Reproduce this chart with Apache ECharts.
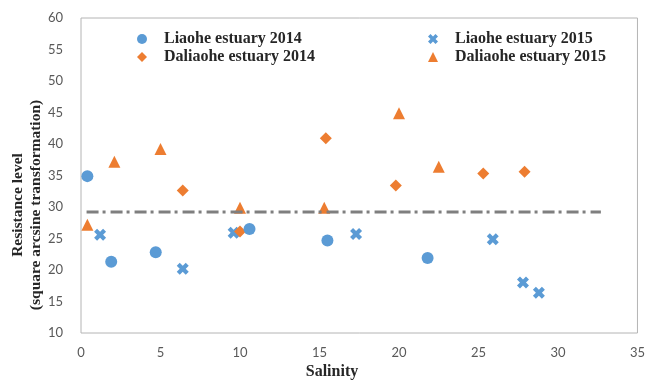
<!DOCTYPE html>
<html>
<head>
<meta charset="utf-8">
<title>Resistance level vs salinity</title>
<script src="https://cdn.jsdelivr.net/npm/echarts@6/dist/echarts.min.js"></script>
<style>
  html, body { margin: 0; padding: 0; background: #ffffff; }
  #chart { width: 648px; height: 380px; }
</style>
</head>
<body>
<div id="chart"></div>
<script>
// Salinity (x) and resistance level (y) for each estuary / sampling year
const liaohe2014Salinity = [0.4, 1.9, 4.7, 10.6, 15.5, 21.8];
const liaohe2014Resistance = [34.9, 21.3, 22.8, 26.5, 24.7, 21.9];

const liaohe2015Salinity = [1.2, 6.4, 9.6, 17.3, 25.9, 27.8, 28.8];
const liaohe2015Resistance = [25.6, 20.2, 25.9, 25.7, 24.9, 18.0, 16.4];

const daliaohe2014Salinity = [6.4, 10.0, 15.4, 19.8, 25.3, 27.9];
const daliaohe2014Resistance = [32.6, 26.1, 40.9, 33.4, 35.3, 35.6];

const daliaohe2015Salinity = [0.4, 2.1, 5.0, 10.0, 15.3, 20.0, 22.5];
const daliaohe2015Resistance = [27.2, 37.2, 39.2, 29.9, 29.9, 44.9, 36.4];

// Reference level drawn as a dash-dot line across the sampled salinity range
const thresholdSalinity = [0.35, 32.7];
const thresholdLevel = [29.2, 29.2];

const seriesNames = [
  'Liaohe estuary 2014',
  'Liaohe estuary 2015',
  'Daliaohe estuary 2014',
  'Daliaohe estuary 2015'
];

const BLUE = '#5B9BD5';
const ORANGE = '#ED7D31';
// Heavy "x" marker
const X_MARK = 'path://M0,2.5 L2.5,0 L5,2.5 L7.5,0 L10,2.5 L7.5,5 L10,7.5 L7.5,10 L5,7.5 L2.5,10 L0,7.5 L2.5,5 Z';

const zip = (xs, ys) => xs.map((x, i) => [x, ys[i]]);

const serif = '"Liberation Serif", "Times New Roman", serif';
const tickFont = 'Lato, "Liberation Sans", sans-serif';

const chart = echarts.init(document.getElementById('chart'), null, { renderer: 'canvas' });

const legendText = {
  fontFamily: serif,
  fontWeight: 'bold',
  fontSize: 16,
  color: '#262626',
  lineHeight: 16,
  padding: [0, 0, 0, 12]
};

const legendBase = {
  orient: 'vertical',
  top: 26,
  itemWidth: 10,
  itemHeight: 10,
  itemGap: 2,
  symbolKeepAspect: true,
  textStyle: legendText
};

chart.setOption({
  animation: false,
  backgroundColor: '#ffffff',
  grid: {
    left: 81,
    right: 5,
    top: 18,
    bottom: 47,
    show: true,
    borderColor: '#B4B4B4',
    borderWidth: 1,
    backgroundColor: 'transparent'
  },
  legend: [
    Object.assign({}, legendBase, { left: 132, data: [seriesNames[0], seriesNames[2]] }),
    Object.assign({}, legendBase, { left: 423, data: [seriesNames[1], seriesNames[3]] })
  ],
  xAxis: {
    type: 'value',
    min: 0,
    max: 35,
    interval: 5,
    axisLine: { show: false },
    axisTick: { show: false },
    splitLine: { show: false },
    axisLabel: {
      margin: 13,
      fontFamily: tickFont,
      fontSize: 13,
      color: '#595959'
    }
  },
  yAxis: {
    type: 'value',
    min: 10,
    max: 60,
    interval: 5,
    axisLine: { show: false },
    axisTick: { show: false },
    splitLine: { show: false },
    axisLabel: {
      margin: 18,
      fontFamily: tickFont,
      fontSize: 13,
      color: '#595959'
    }
  },
  graphic: [
    {
      type: 'text',
      x: 332,
      y: 372,
      style: {
        text: 'Salinity',
        font: 'bold 16px ' + serif,
        fill: '#262626',
        textAlign: 'center',
        textVerticalAlign: 'middle'
      }
    },
    {
      type: 'text',
      x: 27,
      y: 205,
      rotation: Math.PI / 2,
      style: {
        text: 'Resistance level\n(square arcsine transformation)',
        font: 'bold 15.5px ' + serif,
        lineHeight: 18,
        fill: '#262626',
        textAlign: 'center',
        textVerticalAlign: 'middle'
      }
    }
  ],
  series: [
    {
      name: seriesNames[1],
      type: 'scatter',
      symbol: X_MARK,
      symbolSize: 12,
      itemStyle: { color: BLUE, opacity: 1 },
      data: zip(liaohe2015Salinity, liaohe2015Resistance)
    },
    {
      name: seriesNames[2],
      type: 'scatter',
      symbol: 'diamond',
      symbolSize: 12,
      itemStyle: { color: ORANGE, opacity: 1 },
      data: zip(daliaohe2014Salinity, daliaohe2014Resistance)
    },
    {
      name: seriesNames[0],
      type: 'scatter',
      symbol: 'circle',
      symbolSize: 12,
      itemStyle: { color: BLUE, opacity: 1 },
      data: zip(liaohe2014Salinity, liaohe2014Resistance)
    },
    {
      name: seriesNames[3],
      type: 'scatter',
      symbol: 'triangle',
      symbolSize: 12,
      itemStyle: { color: ORANGE, opacity: 1 },
      data: zip(daliaohe2015Salinity, daliaohe2015Resistance)
    },
    {
      name: 'threshold',
      type: 'line',
      showSymbol: false,
      silent: true,
      z: 5,
      lineStyle: {
        color: '#7F7F7F',
        width: 3,
        type: [12, 4, 3, 5]
      },
      data: zip(thresholdSalinity, thresholdLevel)
    }
  ]
});
</script>
</body>
</html>
